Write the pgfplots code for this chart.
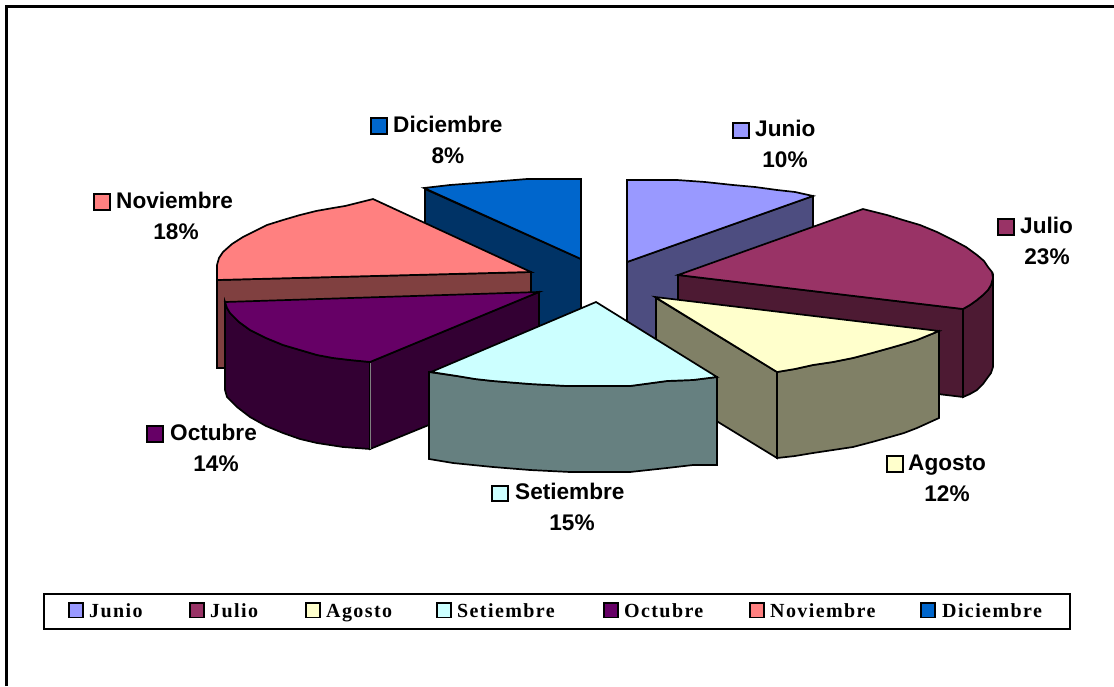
\documentclass[border=0pt]{standalone}
\usepackage{pgfplots}
\pgfplotsset{compat=1.18}
\usepackage{fontspec}
\setmainfont{Liberation Sans}
\newfontfamily\legfont[LetterSpace=7]{Liberation Serif}
\definecolor{cJun}{HTML}{9999FF}\definecolor{sJun}{HTML}{4D4D80}
\definecolor{cJul}{HTML}{993366}\definecolor{sJul}{HTML}{4D1A33}
\definecolor{cAgo}{HTML}{FFFFCC}\definecolor{sAgo}{HTML}{808066}
\definecolor{cSet}{HTML}{CCFFFF}\definecolor{sSet}{HTML}{668080}
\definecolor{cOct}{HTML}{660066}\definecolor{sOct}{HTML}{330033}
\definecolor{cNov}{HTML}{FF8080}\definecolor{sNov}{HTML}{804040}
\definecolor{cDic}{HTML}{0066CC}\definecolor{sDic}{HTML}{003366}
\begin{document}
\begin{tikzpicture}
\begin{axis}[
  scale only axis, width=1114pt, height=686pt,
  xmin=0, xmax=1114, ymin=0, ymax=686, y dir=reverse,
  axis lines=none, clip=true,
  every axis plot/.append style={no markers, line width=1.7pt, draw=black, solid},
]
% page background and outer frame
\addplot[fill=white,draw=none] coordinates {(0,0)(1114,0)(1114,686)(0,686)} --cycle;
\addplot[line width=2.2pt,fill=none] coordinates {(6.5,686)(6.5,6.5)(1114,6.5)};
% Junio
\addplot[fill=sJun] coordinates {(627,262)(813,196)(813,284)(627,350)} --cycle;
\addplot[fill=cJun] coordinates {(627,262)(627,180)(677,180)(705,182)(733,185)(755,187)(777,190)(795,192)(813,196)} --cycle;
% Diciembre
\addplot[fill=sDic] coordinates {(425,189)(581,259)(581,347)(425,278)} --cycle;
\addplot[fill=cDic] coordinates {(424,188)(450,185)(490,182)(527,179)(581,179)(581,259)} --cycle;
% Julio
\addplot[fill=sJul] coordinates {(678,275)(963,309)(963,397)(678,363)} --cycle;
\addplot[fill=sJul] coordinates {(963,309)(970,305)(977,300)(983,295)(988,290)(991,285)(993,278)(993,367)(991,373)(988,377)(983,384)(977,390)(970,394)(963,397)} --cycle;
\addplot[fill=cJul] coordinates {(678,275)(863,209)(875,212)(887,215)(903,220)(920,225)(937,232)(953,240)(966,247)(977,255)(984,261)(988,267)(992,272)(993,278)(991,285)(988,290)(983,295)(977,300)(970,305)(963,309)} --cycle;
% Agosto
\addplot[fill=sAgo] coordinates {(656,298)(777,372)(777,458)(656,384)} --cycle;
\addplot[fill=sAgo] coordinates {(777,372)(795,369)(813,365)(833,362)(853,358)(872,353)(890,348)(904,344)(917,340)(939,331)(939,418)(917,428)(904,433)(890,437)(872,442)(853,447)(833,450)(813,453)(795,456)(777,458)} --cycle;
\addplot[fill=cAgo] coordinates {(655,297)(939,331)(917,340)(904,344)(890,348)(872,353)(853,358)(833,362)(813,365)(795,369)(777,372)} --cycle;
% Noviembre
\addplot[fill=sNov] coordinates {(217,280)(531,272)(531,360)(225,368)(217,368)} --cycle;
\addplot[fill=cNov] coordinates {(373,199)(531,272)(217,280)(217,265)(219,258)(223,252)(232,244)(243,237)(255,231)(267,225)(283,220)(300,215)(316,211)(333,208)(345,206)(357,203)} --cycle;
% Octubre
\addplot[fill=sOct] coordinates {(370,362)(539,292)(539,380)(370,449)} --cycle;
\addplot[fill=sOct] coordinates {(225,302)(227,308)(230,313)(239,322)(250,330)(266,338)(283,345)(300,350)(317,355)(333,358)(350,360)(370,362)(370,449)(343,447)(317,443)(300,439)(283,433)(266,426)(250,417)(237,407)(227,397)(225,390)} --cycle;
\addplot[fill=cOct] coordinates {(225,302)(539,292)(370,362)(350,360)(333,358)(317,355)(300,350)(283,345)(266,338)(250,330)(239,322)(230,313)(227,308)} --cycle;
\addplot[draw=gray,line width=0.8pt] coordinates {(370,363)(370,449)};
% Setiembre
\addplot[fill=sSet] coordinates {(429,372)(457,376)(475,379)(493,381)(530,384)(567,386)(630,386)(667,381)(693,380)(717,377)(717,465)(693,465)(667,468)(630,472)(570,472)(530,470)(493,467)(453,463)(429,459)} --cycle;
\addplot[fill=cSet] coordinates {(596,302)(717,377)(693,380)(667,381)(630,386)(567,386)(530,384)(493,381)(475,379)(457,376)(431,372)} --cycle;
% data label swatches
\addplot[fill=cJun] coordinates {(733,123)(749,123)(749,138)(733,138)} --cycle;
\addplot[fill=cJul] coordinates {(998,219)(1014,219)(1014,235)(998,235)} --cycle;
\addplot[fill=cAgo] coordinates {(887,456)(903,456)(903,472)(887,472)} --cycle;
\addplot[fill=cSet] coordinates {(492,486)(508,486)(508,501)(492,501)} --cycle;
\addplot[fill=cOct] coordinates {(147,426)(163,426)(163,442)(147,442)} --cycle;
\addplot[fill=cNov] coordinates {(94,194)(110,194)(110,210)(94,210)} --cycle;
\addplot[fill=cDic] coordinates {(371,118)(387,118)(387,134)(371,134)} --cycle;
% legend box and swatches
\addplot[line width=2pt,fill=white] coordinates {(44,594)(1070,594)(1070,628.5)(44,628.5)} --cycle;
\addplot[fill=cJun] coordinates {(69,603)(83,603)(83,617.5)(69,617.5)} --cycle;
\addplot[fill=cJul] coordinates {(190,603)(204,603)(204,617.5)(190,617.5)} --cycle;
\addplot[fill=cAgo] coordinates {(306,603)(320,603)(320,617.5)(306,617.5)} --cycle;
\addplot[fill=cSet] coordinates {(437,603)(451,603)(451,617.5)(437,617.5)} --cycle;
\addplot[fill=cOct] coordinates {(604,603)(618,603)(618,617.5)(604,617.5)} --cycle;
\addplot[fill=cNov] coordinates {(750,603)(764,603)(764,617.5)(750,617.5)} --cycle;
\addplot[fill=cDic] coordinates {(921,603)(935,603)(935,617.5)(921,617.5)} --cycle;
% data labels
\tikzset{lab/.style={inner sep=0pt,anchor=base west,font=\fontsize{22.6}{26}\selectfont\bfseries},
         pct/.style={inner sep=0pt,anchor=base,font=\fontsize{22.6}{26}\selectfont\bfseries},
         leg/.style={inner sep=0pt,anchor=base west,font=\fontsize{20}{23}\selectfont\legfont\bfseries}}
\node[lab] at (axis cs:755,136) {Junio};   \node[pct] at (axis cs:785,167) {10\%};
\node[lab] at (axis cs:1020,233) {Julio};  \node[pct] at (axis cs:1047,264) {23\%};
\node[lab] at (axis cs:908,470) {Agosto};  \node[pct] at (axis cs:947,501) {12\%};
\node[lab] at (axis cs:515,499) {Setiembre}; \node[pct] at (axis cs:572,530) {15\%};
\node[lab] at (axis cs:170,440) {Octubre}; \node[pct] at (axis cs:216,471) {14\%};
\node[lab] at (axis cs:116,208) {Noviembre}; \node[pct] at (axis cs:176,239) {18\%};
\node[lab] at (axis cs:393,132) {Diciembre}; \node[pct] at (axis cs:448,163) {8\%};
% legend labels
\node[leg] at (axis cs:89,617) {Junio};
\node[leg] at (axis cs:210,617) {Julio};
\node[leg] at (axis cs:326,617) {Agosto};
\node[leg] at (axis cs:457,617) {Setiembre};
\node[leg] at (axis cs:624,617) {Octubre};
\node[leg] at (axis cs:770,617) {Noviembre};
\node[leg] at (axis cs:942,617) {Diciembre};
\end{axis}
\end{tikzpicture}
\end{document}
